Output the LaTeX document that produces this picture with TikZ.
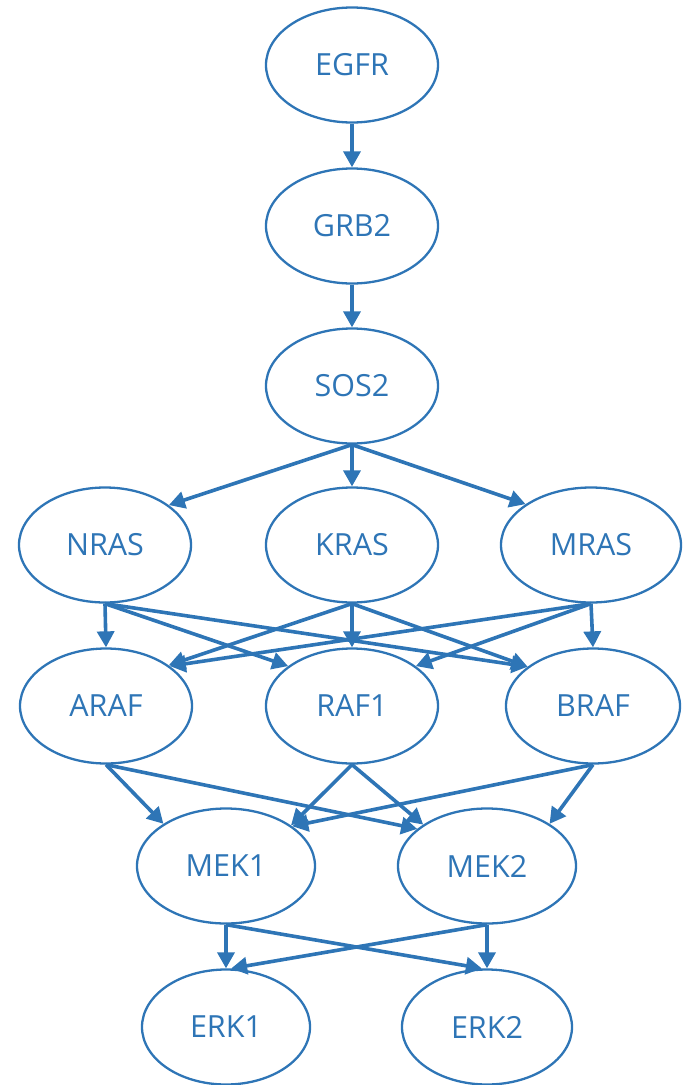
\documentclass[tikz,border=0pt]{standalone}
\usepackage{fontspec}
\setmainfont{Open Sans}
\usetikzlibrary{shapes.geometric,arrows.meta}

\definecolor{pathblue}{RGB}{46,117,182}

\tikzset{
  gene/.style={ellipse,draw=pathblue,line width=2.3pt,text=pathblue,
    minimum width=172pt,minimum height=115pt,inner sep=0pt,
    font=\fontsize{30.5}{36}\selectfont},
  link/.style={draw=pathblue,line width=3.6pt,
    -{Triangle[length=16pt,width=17pt]}}
}

\begin{document}
\begin{tikzpicture}[x=1pt,y=-1pt]
\useasboundingbox (0,0) rectangle (688,1085);

\node [gene] (egfr) at (352,65) {EGFR};
\node [gene] (grb2) at (352,226) {GRB2};
\node [gene] (sos2) at (352,386) {SOS2};

\node [gene] (nras) at (105,545) {NRAS};
\node [gene] (kras) at (352,545) {KRAS};
\node [gene,minimum width=180pt] (mras) at (591,545) {MRAS};

\node [gene] (araf) at (106,706) {ARAF};
\node [gene] (raf1) at (352,706) {RAF1};
\node [gene,minimum width=174pt] (braf) at (593,706) {BRAF};

\node [gene,minimum width=178pt] (mek1) at (226,866) {MEK1};
\node [gene,minimum width=178pt] (mek2) at (487,866) {MEK2};

\node [gene,minimum width=168pt] (erk1) at (226,1027) {ERK1};
\node [gene,minimum width=170pt] (erk2) at (487,1027) {ERK2};

\draw [link] (egfr.south) -- (grb2.north);
\draw [link] (grb2.south) -- (sos2.north);

\draw [link] (sos2.south) -- (nras.32);
\draw [link] (sos2.south) -- (kras.north);
\draw [link] (sos2.south) -- (mras.148);

\draw [link] (nras.south) -- (araf.north);
\draw [link] (nras.south) -- (raf1.148);
\draw [link] (nras.south) -- (braf.149);
\draw [link] (kras.south) -- (araf.33);
\draw [link] (kras.south) -- (raf1.north);
\draw [link] (kras.south) -- (braf.149);
\draw [link] (mras.south) -- (araf.32);
\draw [link] (mras.south) -- (raf1.32);
\draw [link] (mras.south) -- (braf.north);

\draw [link] (araf.south) -- (mek1.146);
\draw [link] (araf.south) -- (mek2.152);
\draw [link] (raf1.south) -- (mek1.32);
\draw [link] (raf1.south) -- (mek2.147);
\draw [link] (braf.south) -- (mek1.31);
\draw [link] (braf.south) -- (mek2.34);

\draw [link] (mek1.south) -- (erk1.north);
\draw [link] (mek1.south) -- (erk2.95);
\draw [link] (mek2.south) -- (erk1.85);
\draw [link] (mek2.south) -- (erk2.north);

\end{tikzpicture}
\end{document}
